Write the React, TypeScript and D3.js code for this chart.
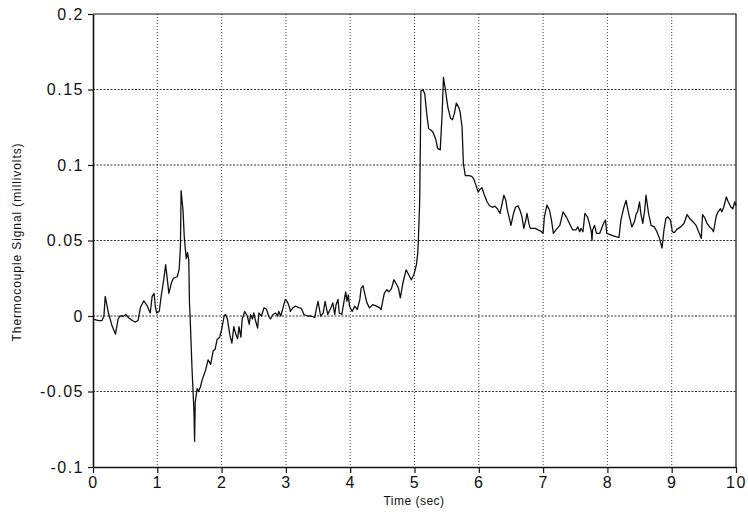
import React, { useRef, useEffect } from "react";
import * as d3 from "d3";

// thermocouple trace
const timeSec = [
  0.0, 0.09, 0.14, 0.17, 0.19, 0.24, 0.3, 0.35, 0.39, 0.42, 0.48, 0.51, 0.55, 0.61, 0.66, 0.7,
  0.74, 0.79, 0.84, 0.88, 0.89, 0.92, 0.95, 0.97, 0.99, 1.03, 1.06, 1.1, 1.13, 1.18, 1.22, 1.25,
  1.31, 1.34, 1.36, 1.37, 1.4, 1.42, 1.45, 1.47, 1.49, 1.5, 1.51, 1.54, 1.57, 1.58, 1.59, 1.62,
  1.64, 1.67, 1.7, 1.75, 1.79, 1.83, 1.87, 1.9, 1.93, 1.97, 2.0, 2.04, 2.06, 2.09, 2.13, 2.16,
  2.19, 2.22, 2.25, 2.27, 2.3, 2.32, 2.36, 2.4, 2.43, 2.45, 2.48, 2.5, 2.53, 2.56, 2.58, 2.62,
  2.66, 2.7, 2.73, 2.76, 2.8, 2.84, 2.87, 2.89, 2.92, 2.94, 2.99, 3.02, 3.05, 3.07, 3.11, 3.15,
  3.2, 3.24, 3.28, 3.34, 3.39, 3.45, 3.47, 3.5, 3.54, 3.58, 3.61, 3.65, 3.7, 3.73, 3.76, 3.78,
  3.81, 3.83, 3.87, 3.9, 3.93, 3.95, 3.97, 3.99, 4.03, 4.07, 4.11, 4.15, 4.17, 4.2, 4.22, 4.26,
  4.3, 4.35, 4.41, 4.46, 4.48, 4.53, 4.57, 4.6, 4.64, 4.68, 4.72, 4.75, 4.78, 4.82, 4.87, 4.91,
  4.95, 4.99, 5.03, 5.05, 5.06, 5.08, 5.09, 5.1, 5.13, 5.16, 5.19, 5.22, 5.26, 5.29, 5.33, 5.36,
  5.4, 5.43, 5.45, 5.48, 5.52, 5.56, 5.59, 5.62, 5.65, 5.69, 5.71, 5.74, 5.76, 5.79, 5.85, 5.89,
  5.92, 5.96, 5.99, 6.02, 6.05, 6.08, 6.13, 6.17, 6.21, 6.25, 6.29, 6.33, 6.35, 6.39, 6.42, 6.44,
  6.47, 6.5, 6.54, 6.57, 6.61, 6.64, 6.67, 6.7, 6.73, 6.75, 6.78, 6.8, 6.84, 6.88, 6.92, 6.97,
  7.0, 7.02, 7.06, 7.1, 7.13, 7.16, 7.2, 7.26, 7.31, 7.36, 7.41, 7.46, 7.51, 7.54, 7.57, 7.59,
  7.62, 7.65, 7.69, 7.72, 7.75, 7.76, 7.77, 7.8, 7.83, 7.88, 7.91, 7.94, 7.97, 7.99, 8.06, 8.13,
  8.18, 8.21, 8.25, 8.29, 8.33, 8.38, 8.42, 8.45, 8.47, 8.5, 8.52, 8.55, 8.58, 8.6, 8.64, 8.68,
  8.73, 8.77, 8.81, 8.85, 8.88, 8.91, 8.94, 8.98, 9.01, 9.04, 9.08, 9.14, 9.19, 9.24, 9.28, 9.33,
  9.38, 9.43, 9.46, 9.48, 9.52, 9.55, 9.59, 9.62, 9.65, 9.69, 9.72, 9.76, 9.78, 9.81, 9.85, 9.88,
  9.92, 9.95, 9.98, 10.0,
];

const signalMv = [
  -0.002, -0.003, -0.003, 0.0, 0.013, 0.002, -0.007, -0.012, -0.002, 0.0, 0.0, 0.001, -0.001, -0.003, -0.004, -0.003,
  0.006, 0.01, 0.007, 0.003, 0.002, 0.013, 0.015, 0.006, 0.002, 0.003, 0.013, 0.024, 0.034, 0.015, 0.022, 0.025,
  0.026, 0.031, 0.046, 0.083, 0.07, 0.052, 0.038, 0.042, 0.037, 0.009, 0.0, -0.035, -0.063, -0.083, -0.057, -0.048,
  -0.05, -0.047, -0.042, -0.036, -0.029, -0.032, -0.023, -0.022, -0.0155, -0.014, -0.009, 0.0, 0.001, -0.002, -0.013, -0.018,
  -0.007, -0.012, -0.015, -0.007, -0.014, -0.002, 0.003, 0.0, -0.0055, 0.001, -0.002, 0.002, -0.0035, -0.008, 0.002, 0.0,
  0.0055, 0.0045, 0.0, -0.002, 0.001, 0.002, 0.0, 0.003, 0.0, 0.003, 0.011, 0.0097, 0.0065, 0.003, 0.0055, 0.0065,
  0.0055, 0.005, 0.001, 0.0, 0.0, -0.001, 0.004, 0.0097, 0.0, 0.002, 0.0097, 0.001, 0.0055, 0.0087, 0.001, 0.0075,
  0.011, 0.002, 0.001, 0.0087, 0.016, 0.0097, 0.014, 0.0065, 0.003, 0.0065, 0.0043, 0.011, 0.0185, 0.02, 0.016, 0.0087,
  0.0054, 0.0075, 0.0065, 0.0054, 0.0043, 0.015, 0.0175, 0.016, 0.018, 0.024, 0.021, 0.0185, 0.012, 0.022, 0.0306, 0.0273,
  0.024, 0.0273, 0.034, 0.0415, 0.05, 0.075, 0.11, 0.149, 0.15, 0.147, 0.134, 0.124, 0.123, 0.1215, 0.117, 0.111,
  0.11, 0.134, 0.158, 0.15, 0.138, 0.131, 0.13, 0.134, 0.141, 0.138, 0.135, 0.125, 0.101, 0.093, 0.093, 0.0925,
  0.091, 0.086, 0.082, 0.084, 0.085, 0.081, 0.0755, 0.073, 0.072, 0.0727, 0.071, 0.068, 0.072, 0.08, 0.0767, 0.071,
  0.0657, 0.06, 0.068, 0.072, 0.073, 0.07, 0.066, 0.058, 0.0635, 0.068, 0.061, 0.058, 0.058, 0.058, 0.057, 0.056,
  0.0547, 0.0657, 0.0734, 0.07, 0.0635, 0.0547, 0.057, 0.06, 0.069, 0.0657, 0.0613, 0.057, 0.057, 0.059, 0.0558, 0.058,
  0.0558, 0.068, 0.0657, 0.0613, 0.0558, 0.05, 0.057, 0.06, 0.0547, 0.0547, 0.058, 0.0613, 0.0635, 0.0547, 0.0536, 0.0525,
  0.052, 0.0635, 0.071, 0.0766, 0.068, 0.059, 0.0624, 0.068, 0.069, 0.0755, 0.068, 0.0613, 0.07, 0.08, 0.068, 0.06,
  0.059, 0.0558, 0.0514, 0.045, 0.057, 0.0646, 0.0657, 0.0635, 0.0558, 0.0552, 0.0574, 0.059, 0.0613, 0.0672, 0.0646, 0.0624,
  0.06, 0.0547, 0.0514, 0.0672, 0.0646, 0.0613, 0.059, 0.058, 0.0558, 0.0657, 0.069, 0.071, 0.069, 0.0722, 0.0788, 0.0755,
  0.0722, 0.071, 0.0755, 0.073,
];

const xTickValues = [0, 1, 2, 3, 4, 5, 6, 7, 8, 9, 10];
const yTickValues = [-0.1, -0.05, 0, 0.05, 0.1, 0.15, 0.2];
const yTickLabels = ["-0.1", "-0.05", "0", "0.05", "0.1", "0.15", "0.2"];

const W = 748;
const H = 516;
const FONT = "'Liberation Sans', Arial, Helvetica, sans-serif";

const App = () => {
  const svgRef = useRef<SVGSVGElement>(null);

  useEffect(() => {
    const svg = d3.select(svgRef.current);
    svg.selectAll("*").remove();

    const xScale = d3.scaleLinear().domain([0, 10]).range([93, 736]);
    const yScale = d3.scaleLinear().domain([-0.1, 0.2]).range([467, 14]);

    // dotted grid
    svg
      .append("g")
      .selectAll("line")
      .data(xTickValues.slice(1, -1))
      .join("line")
      .attr("x1", (d) => xScale(d))
      .attr("x2", (d) => xScale(d))
      .attr("y1", yScale(0.2))
      .attr("y2", yScale(-0.1))
      .attr("stroke", "#444")
      .attr("stroke-width", 1)
      .attr("stroke-dasharray", "1,2");

    svg
      .append("g")
      .selectAll("line")
      .data(yTickValues.slice(1, -1))
      .join("line")
      .attr("x1", xScale(0))
      .attr("x2", xScale(10))
      .attr("y1", (d) => yScale(d))
      .attr("y2", (d) => yScale(d))
      .attr("stroke", "#333")
      .attr("stroke-width", 1)
      .attr("stroke-dasharray", "2,1.5");

    // frame top / right
    svg
      .append("path")
      .attr("d", `M${xScale(0)},${yScale(0.2)}H${xScale(10)}V${yScale(-0.1)}`)
      .attr("fill", "none")
      .attr("stroke", "#111")
      .attr("stroke-width", 1.2);

    const line = d3
      .line<number>()
      .x((d, i) => xScale(timeSec[i]))
      .y((d) => yScale(d));

    svg
      .append("path")
      .datum(signalMv)
      .attr("d", line)
      .attr("fill", "none")
      .attr("stroke", "#111")
      .attr("stroke-width", 1.3)
      .attr("stroke-linejoin", "round");

    const xAxis = d3
      .axisBottom(xScale)
      .tickValues(xTickValues)
      .tickSize(6)
      .tickSizeOuter(0)
      .tickPadding(4)
      .tickFormat((d) => String(d));

    const gx = svg
      .append("g")
      .attr("transform", `translate(0,${yScale(-0.1)})`)
      .call(xAxis);

    const yAxis = d3
      .axisLeft(yScale)
      .tickValues(yTickValues)
      .tickSize(5)
      .tickSizeOuter(0)
      .tickPadding(4)
      .tickFormat((d, i) => yTickLabels[i]);

    const gy = svg
      .append("g")
      .attr("transform", `translate(${xScale(0)},0)`)
      .call(yAxis);

    [gx, gy].forEach((g) => {
      g.select(".domain").attr("stroke", "#111").attr("stroke-width", 1.6);
      g.selectAll(".tick line").attr("stroke", "#111").attr("stroke-width", 1.2);
      g.selectAll("text")
        .attr("fill", "#111")
        .style("font-family", FONT)
        .style("font-size", "16px")
        .style("letter-spacing", "1.5px");
    });

    svg
      .append("text")
      .attr("x", 414)
      .attr("y", 505)
      .attr("text-anchor", "middle")
      .attr("fill", "#111")
      .style("font-family", FONT)
      .style("font-size", "12px")
      .style("letter-spacing", "0.5px")
      .text("Time (sec)");

    svg
      .append("text")
      .attr("transform", "rotate(-90)")
      .attr("x", -242)
      .attr("y", 21)
      .attr("text-anchor", "middle")
      .attr("fill", "#111")
      .style("font-family", FONT)
      .style("font-size", "12px")
      .style("letter-spacing", "0.9px")
      .text("Thermocouple Signal (millivolts)");
  }, []);

  return (
    <div style={{ position: "absolute", left: 0, top: 0, background: "#fff" }}>
      <svg ref={svgRef} width={W} height={H} style={{ display: "block" }} />
    </div>
  );
};

export default App;
